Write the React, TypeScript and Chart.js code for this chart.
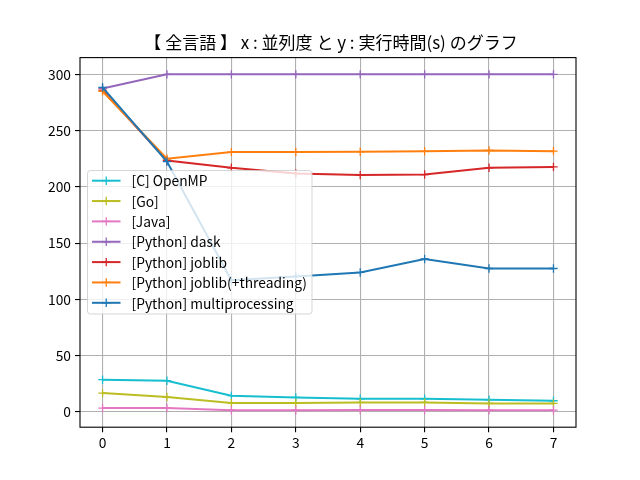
import React, { useEffect, useRef } from "react";
import { Chart, registerables } from "chart.js";

Chart.register(...registerables);

const TITLE = "【 全言語 】 x : 並列度 と y : 実行時間(s) のグラフ";
const xValues = [0, 1, 2, 3, 4, 5, 6, 7];
const xTicks = [0, 1, 2, 3, 4, 5, 6, 7];
const yTicks = [0, 50, 100, 150, 200, 250, 300];

const seriesNames = [
  "[C] OpenMP",
  "[Go]",
  "[Java]",
  "[Python] dask",
  "[Python] joblib",
  "[Python] joblib(+threading)",
  "[Python] multiprocessing",
];
const seriesColors = ["#17becf", "#bcbd22", "#e377c2", "#9467bd", "#d62728", "#ff7f0e", "#1f77b4"];

const openmp = [28.7, 27.8, 14.5, 13.0, 11.8, 11.8, 10.9, 10.0];
const go = [16.8, 13.3, 8.0, 8.0, 8.5, 8.5, 7.6, 7.6];
const java = [3.5, 3.5, 1.6, 1.6, 1.8, 1.8, 1.6, 1.6];
const dask = [287.5, 300, 300, 300, 300, 300, 300, 300];
const joblib = [286, 223.5, 217, 212, 210.5, 211, 217, 217.8];
const joblibThreading = [285, 225, 231, 231, 231.3, 231.6, 232.4, 231.8];
const multiprocessing = [288.5, 222.5, 117, 120.5, 124, 136, 127.5, 127.5];

const seriesValues = [openmp, go, java, dask, joblib, joblibThreading, multiprocessing];

const FONT = "'Noto Sans CJK JP', 'Noto Sans', sans-serif";

export default function App() {
  const ref = useRef<HTMLCanvasElement | null>(null);

  useEffect(() => {
    if (!ref.current) return;
    const n = seriesNames.length;
    const datasets = seriesNames.map((name, i) => ({
      label: name,
      data: xValues.map((x, j) => ({ x, y: seriesValues[i][j] })),
      borderColor: seriesColors[i],
      backgroundColor: seriesColors[i],
      borderWidth: 2,
      pointStyle: "cross" as const,
      pointRadius: 4.2,
      pointBorderWidth: 1.3,
      pointHoverRadius: 4.2,
      tension: 0,
      order: n - 1 - i,
    }));

    const overlay = {
      id: "overlay",
      afterDatasetsDraw(chart: any) {
        const ctx = chart.ctx;
        const a = chart.chartArea;
        ctx.save();
        // spines
        ctx.strokeStyle = "#000";
        ctx.lineWidth = 1.1;
        ctx.strokeRect(a.left, a.top, a.right - a.left, a.bottom - a.top);
        // title
        ctx.fillStyle = "#000";
        ctx.font = `17px ${FONT}`;
        ctx.textAlign = "center";
        ctx.textBaseline = "alphabetic";
        ctx.fillText(TITLE, (a.left + a.right) / 2 + 3, 49);
        // legend
        const lx = 87.5, ly = 170.5, lw = 224.5, lh = 143.5;
        ctx.globalAlpha = 0.8;
        ctx.fillStyle = "#fff";
        ctx.beginPath();
        (ctx as any).roundRect(lx, ly, lw, lh, 3);
        ctx.fill();
        ctx.strokeStyle = "#cccccc";
        ctx.lineWidth = 1;
        ctx.stroke();
        ctx.globalAlpha = 1;
        ctx.font = `13.8px ${FONT}`;
        ctx.textAlign = "left";
        ctx.textBaseline = "middle";
        for (let i = 0; i < n; i++) {
          const cy = 180.7 + i * 20.35;
          ctx.strokeStyle = seriesColors[i];
          ctx.lineWidth = 2;
          ctx.beginPath();
          ctx.moveTo(92, cy);
          ctx.lineTo(120.5, cy);
          ctx.stroke();
          ctx.lineWidth = 1.3;
          ctx.beginPath();
          ctx.moveTo(106.25 - 4.2, cy);
          ctx.lineTo(106.25 + 4.2, cy);
          ctx.moveTo(106.25, cy - 4.2);
          ctx.lineTo(106.25, cy + 4.2);
          ctx.stroke();
          ctx.fillStyle = "#000";
          ctx.fillText(seriesNames[i], 131.5, cy + 0.5);
        }
        ctx.restore();
      },
    };

    const chart = new Chart(ref.current, {
      type: "line",
      data: { datasets },
      plugins: [overlay],
      options: {
        animation: false,
        responsive: false,
        maintainAspectRatio: false,
        layout: { padding: { top: 57.6, right: 64, left: 0, bottom: 0 } },
        plugins: {
          legend: { display: false },
          title: { display: false },
          tooltip: { enabled: false },
        },
        scales: {
          x: {
            type: "linear",
            min: -0.35,
            max: 7.35,
            afterBuildTicks: (s: any) => {
              s.ticks = xTicks.map((v) => ({ value: v }));
            },
            afterFit: (s: any) => {
              s.height = 52.8;
            },
            grid: {
              color: "#b0b0b0",
              lineWidth: 1.1,
              tickColor: "#000",
              tickLength: 5,
              drawTicks: true,
            },
            border: { display: false },
            ticks: {
              color: "#000",
              font: { family: FONT, size: 13.8 },
              padding: 2,
              maxRotation: 0,
              callback: (v: any) => String(v),
            },
          },
          y: {
            type: "linear",
            min: -13.5,
            max: 314.9,
            afterBuildTicks: (s: any) => {
              s.ticks = yTicks.map((v) => ({ value: v }));
            },
            afterFit: (s: any) => {
              s.width = 80;
            },
            grid: {
              color: "#b0b0b0",
              lineWidth: 1.1,
              tickColor: "#000",
              tickLength: 5,
              drawTicks: true,
            },
            border: { display: false },
            ticks: {
              color: "#000",
              font: { family: FONT, size: 13.8 },
              padding: 4,
              callback: (v: any) => String(v),
            },
          },
        },
      },
    });
    return () => chart.destroy();
  }, []);

  return (
    <div style={{ position: "fixed", left: 0, top: 0, width: 640, height: 480, background: "#fff" }}>
      <canvas ref={ref} width={640} height={480} style={{ width: 640, height: 480 }} />
    </div>
  );
}
